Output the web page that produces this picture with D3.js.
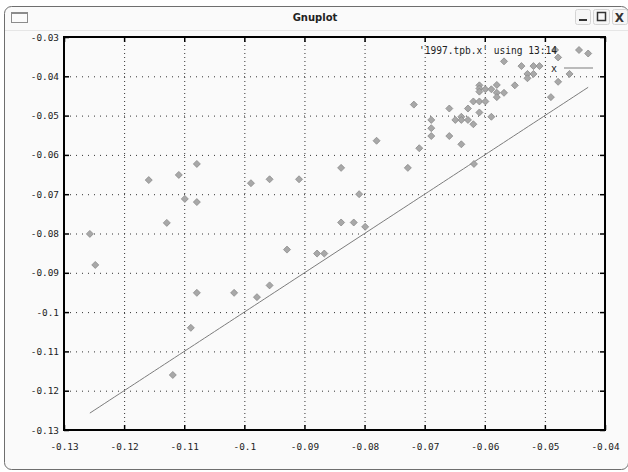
<!DOCTYPE html>
<html>
<head>
<meta charset="utf-8">
<script src="https://cdn.jsdelivr.net/npm/d3@7"></script>
<style>
  html, body { margin: 0; padding: 0; background: #ffffff; }
  svg { display: block; }
</style>
</head>
<body>
<svg id="win" width="628" height="472"></svg>
<script>
// Tick values for both axes
const xTickValues = [-0.13, -0.12, -0.11, -0.1, -0.09, -0.08, -0.07, -0.06, -0.05, -0.04];
const yTickValues = [-0.13, -0.12, -0.11, -0.1, -0.09, -0.08, -0.07, -0.06, -0.05, -0.04, -0.03];

// Column 13 of 1997.tpb.x
const colX = [
  -0.1257, -0.1248, -0.1159, -0.1129, -0.1109, -0.1099, -0.1079, -0.1079, -0.1079, -0.1089,
  -0.1119, -0.1017, -0.0989, -0.0979, -0.0958, -0.0958, -0.0929, -0.0909, -0.0879, -0.0867,
  -0.0839, -0.0839, -0.0818, -0.0809, -0.0799, -0.0780, -0.0728, -0.0718, -0.0709, -0.0689,
  -0.0689, -0.0689, -0.0659, -0.0659, -0.0649, -0.0639, -0.0639, -0.0639, -0.0628, -0.0628,
  -0.0619, -0.0619, -0.0618, -0.0609, -0.0609, -0.0609, -0.0609, -0.0609, -0.0599, -0.0599,
  -0.0589, -0.0589, -0.0580, -0.0580, -0.0580, -0.0568, -0.0568, -0.0550, -0.0539, -0.0529,
  -0.0529, -0.0519, -0.0519, -0.0509, -0.0490, -0.0478, -0.0478, -0.0483, -0.0459, -0.0428
];
// Column 14 of 1997.tpb.x
const colY = [
  -0.0801, -0.0880, -0.0664, -0.0773, -0.0651, -0.0712, -0.0623, -0.0720, -0.0951, -0.1040,
  -0.1160, -0.0951, -0.0672, -0.0962, -0.0662, -0.0932, -0.0841, -0.0662, -0.0851, -0.0851,
  -0.0633, -0.0772, -0.0772, -0.0700, -0.0783, -0.0564, -0.0633, -0.0472, -0.0583, -0.0511,
  -0.0532, -0.0552, -0.0482, -0.0552, -0.0511, -0.0503, -0.0511, -0.0573, -0.0482, -0.0511,
  -0.0522, -0.0464, -0.0623, -0.0423, -0.0431, -0.0439, -0.0464, -0.0492, -0.0433, -0.0464,
  -0.0433, -0.0503, -0.0422, -0.0442, -0.0453, -0.0442, -0.0362, -0.0423, -0.0374, -0.0394,
  -0.0405, -0.0374, -0.0394, -0.0374, -0.0453, -0.0414, -0.0352, -0.0333, -0.0394, -0.0342
];

const keyLabels = ["'1997.tpb.x' using 13:14", "x"];

const points = colX.map((v, i) => ({ x: v, y: colY[i] }));

const svg = d3.select("#win");
const W = 628, H = 472;

// ---- window frame ----
svg.append("rect").attr("x", 0).attr("y", 0).attr("width", W).attr("height", H).attr("fill", "#ffffff");
svg.append("rect")
  .attr("x", 4.5).attr("y", 6.5).attr("width", 624).attr("height", 463)
  .attr("rx", 7).attr("fill", "#fafafa").attr("stroke", "#6e6e6e").attr("stroke-width", 1);
svg.append("path")
  .attr("d", "M5,30.5 H628")
  .attr("stroke", "#e6e6e6").attr("stroke-width", 1);

// window icon
svg.append("rect").attr("x", 11.5).attr("y", 12.5).attr("width", 16).attr("height", 10)
  .attr("fill", "#fbfbfb").attr("stroke", "#8c8c8c").attr("stroke-width", 1);
svg.append("line").attr("x1", 11.5).attr("x2", 27.5).attr("y1", 13).attr("y2", 13)
  .attr("stroke", "#8c8c8c").attr("stroke-width", 2);

svg.append("text")
  .attr("x", 315).attr("y", 21)
  .attr("text-anchor", "middle")
  .attr("font-family", "DejaVu Sans, sans-serif")
  .attr("font-weight", "bold")
  .attr("font-size", 10)
  .attr("fill", "#222")
  .text("Gnuplot");

// title bar buttons
const btn = svg.append("g");
[[575, 590], [593, 609], [612, 627]].forEach(([a, b]) => {
  btn.append("rect").attr("x", a + 0.5).attr("y", 9.5).attr("width", b - a).attr("height", 15)
    .attr("rx", 2).attr("fill", "#f6f6f6").attr("stroke", "#d4d4d4");
});
btn.append("line").attr("x1", 579).attr("x2", 587).attr("y1", 20).attr("y2", 20)
  .attr("stroke", "#333").attr("stroke-width", 2);
btn.append("rect").attr("x", 597.5).attr("y", 12.5).attr("width", 8).attr("height", 8)
  .attr("fill", "none").attr("stroke", "#333").attr("stroke-width", 1.5);
btn.append("text").attr("x", 619.5).attr("y", 21.5).attr("text-anchor", "middle")
  .attr("font-family", "DejaVu Sans, sans-serif").attr("font-weight", "bold")
  .attr("font-size", 12).attr("fill", "#333").text("X");

// ---- plot ----
const plotL = 64, plotR = 605, plotT = 37, plotB = 430;
const xs = d3.scaleLinear().domain([-0.13, -0.04]).range([plotL, plotR]);
const ys = d3.scaleLinear().domain([-0.13, -0.03]).range([plotB, plotT]);

const fmt = d => String(+d.toFixed(2));
const tickFont = "DejaVu Sans Mono, monospace";

// grid
const grid = svg.append("g");
grid.selectAll("line.gx").data(xTickValues.filter(v => v > -0.13 && v < -0.04)).join("line")
  .attr("class", "gx")
  .attr("x1", d => xs(d) + 0.5).attr("x2", d => xs(d) + 0.5)
  .attr("y1", plotT).attr("y2", plotB)
  .attr("stroke", "#333").attr("stroke-width", 1).attr("stroke-dasharray", "1,3");
grid.selectAll("line.gy").data(yTickValues.filter(v => v > -0.13 && v < -0.03)).join("line")
  .attr("class", "gy")
  .attr("x1", plotL).attr("x2", plotR)
  .attr("y1", d => ys(d) + 0.5).attr("y2", d => ys(d) + 0.5)
  .attr("stroke", "#333").attr("stroke-width", 1).attr("stroke-dasharray", "1,5");

// axes (inward ticks on all four sides)
const styleAxis = g => {
  g.select(".domain").remove();
  g.selectAll(".tick line").attr("stroke", "#000").attr("stroke-width", 1.5);
  g.selectAll("text").attr("font-family", tickFont).attr("font-size", 9.4).attr("fill", "#222");
};
svg.append("g").attr("transform", `translate(0,${plotB})`)
  .call(d3.axisBottom(xs).tickValues(xTickValues).tickFormat(fmt).tickSize(-5).tickPadding(13))
  .call(styleAxis);
svg.append("g").attr("transform", `translate(${plotL},0)`)
  .call(d3.axisLeft(ys).tickValues(yTickValues).tickFormat(fmt).tickSize(-5).tickPadding(5))
  .call(styleAxis);
svg.append("g").attr("transform", `translate(0,${plotT})`)
  .call(d3.axisTop(xs).tickValues(xTickValues).tickFormat("").tickSize(-5))
  .call(styleAxis);
svg.append("g").attr("transform", `translate(${plotR},0)`)
  .call(d3.axisRight(ys).tickValues(yTickValues).tickFormat("").tickSize(-5))
  .call(styleAxis);

// border
svg.append("rect").attr("x", plotL).attr("y", plotT)
  .attr("width", plotR - plotL).attr("height", plotB - plotT)
  .attr("fill", "none").attr("stroke", "#000").attr("stroke-width", 2);

// diamond marker
const diamond = "M0,-3.5L3.5,0L0,3.5L-3.5,0Z";

// function x, sampled across the data's x extent
const [xMin, xMax] = d3.extent(colX);
const lineData = d3.range(0, 101).map(i => xMin + (xMax - xMin) * i / 100);
svg.append("path")
  .datum(lineData)
  .attr("d", d3.line().x(d => xs(d)).y(d => ys(d)))
  .attr("fill", "none").attr("stroke", "#7c7c7c").attr("stroke-width", 1);

// data points
svg.append("g").selectAll("path").data(points).join("path")
  .attr("transform", d => `translate(${xs(d.x)},${ys(d.y)})`)
  .attr("d", diamond)
  .attr("fill", "#a8a8a8").attr("stroke", "#8a8a8a").attr("stroke-width", 0.8);

// key
const key = svg.append("g").attr("font-family", tickFont).attr("font-size", 10).attr("fill", "#222");
key.append("text").attr("x", 557).attr("y", 54).attr("text-anchor", "end")
  .attr("textLength", 138).attr("lengthAdjust", "spacingAndGlyphs").text(keyLabels[0]);
key.append("path").attr("transform", "translate(579,50)").attr("d", diamond)
  .attr("fill", "#a8a8a8").attr("stroke", "#8a8a8a").attr("stroke-width", 0.8);
key.append("text").attr("x", 557).attr("y", 72).attr("text-anchor", "end").text(keyLabels[1]);
key.append("line").attr("x1", 564).attr("x2", 593).attr("y1", 68).attr("y2", 68)
  .attr("stroke", "#7c7c7c").attr("stroke-width", 1);
</script>
</body>
</html>
